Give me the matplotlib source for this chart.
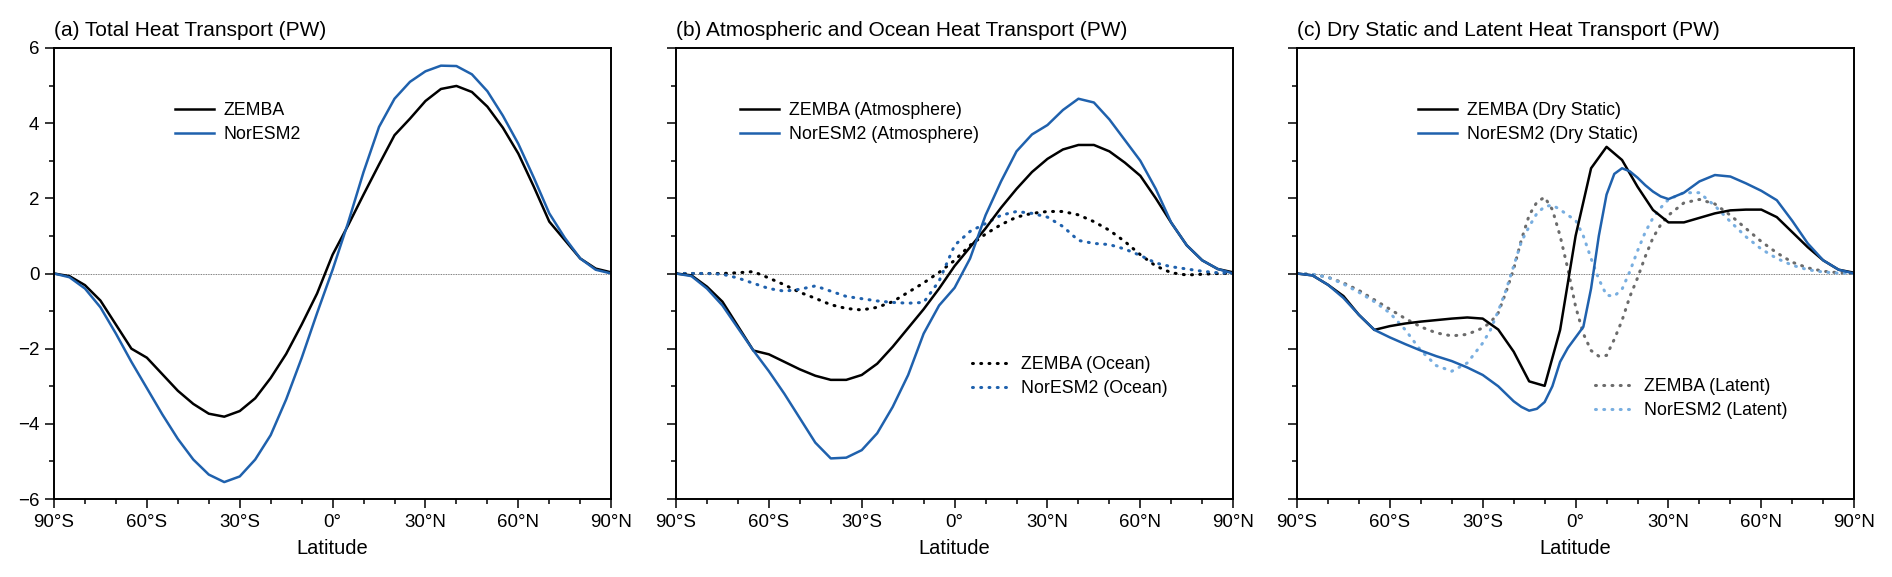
import numpy as np
import matplotlib
matplotlib.use("Agg")
import matplotlib.pyplot as plt
from matplotlib.ticker import MultipleLocator, FixedLocator

plt.rcParams['font.family'] = ['Liberation Sans', 'DejaVu Sans']

# latitude grids
lat = np.arange(-90, 91, 5)
lat_c = np.concatenate([np.arange(-90, -29, 5), np.arange(-27.5, 28, 2.5), np.arange(30, 91, 5)])

# (a) total heat transport (PW), 5 deg grid
total_zemba = [0, -0.07, -0.31, -0.72, -1.36, -2.0, -2.24, -2.68, -3.12, -3.47, -3.73, -3.81, -3.66,
               -3.32, -2.78, -2.14, -1.36, -0.53, 0.5, 1.28, 2.1, 2.9, 3.68, 4.12, 4.59, 4.91, 4.99,
               4.83, 4.44, 3.88, 3.19, 2.31, 1.38, 0.89, 0.40, 0.13, 0.03]
total_noresm = [0, -0.1, -0.4, -0.9, -1.6, -2.35, -3.05, -3.75, -4.4, -4.95, -5.35, -5.55, -5.4,
                -4.95, -4.3, -3.35, -2.25, -1.05, 0.1, 1.35, 2.7, 3.9, 4.65, 5.1, 5.38, 5.53, 5.52,
                5.3, 4.85, 4.2, 3.45, 2.55, 1.6, 0.95, 0.4, 0.1, 0.0]

# (b) atmosphere and ocean (PW), 5 deg grid
atm_zemba = [0, -0.05, -0.35, -0.75, -1.4, -2.05, -2.15, -2.35, -2.55, -2.72, -2.83, -2.83, -2.7,
             -2.4, -1.95, -1.45, -0.95, -0.4, 0.2, 0.7, 1.2, 1.75, 2.25, 2.7, 3.05, 3.3, 3.42,
             3.42, 3.25, 2.95, 2.6, 2.0, 1.35, 0.75, 0.35, 0.12, 0.03]
atm_noresm = [0, -0.07, -0.4, -0.85, -1.45, -2.05, -2.6, -3.2, -3.85, -4.5, -4.92, -4.9, -4.7,
              -4.25, -3.55, -2.7, -1.6, -0.85, -0.38, 0.4, 1.55, 2.45, 3.25, 3.7, 3.95, 4.35, 4.65,
              4.55, 4.1, 3.55, 3.0, 2.25, 1.35, 0.75, 0.35, 0.12, 0.0]
ocn_zemba = [0, 0, 0, 0, 0.02, 0.05, -0.12, -0.3, -0.5, -0.66, -0.83, -0.93, -0.97,
             -0.9, -0.75, -0.5, -0.25, 0.03, 0.35, 0.75, 1.05, 1.3, 1.5, 1.6, 1.65, 1.65, 1.56,
             1.38, 1.15, 0.85, 0.5, 0.2, 0.02, -0.04, -0.02, 0, 0]
ocn_noresm = [0, 0, 0, -0.02, -0.12, -0.26, -0.4, -0.47, -0.42, -0.33, -0.47, -0.61, -0.67,
              -0.73, -0.77, -0.79, -0.77, -0.2, 0.75, 1.12, 1.33, 1.55, 1.65, 1.6, 1.5, 1.25, 0.88,
              0.8, 0.77, 0.65, 0.48, 0.28, 0.18, 0.12, 0.06, 0.02, 0]

# (c) dry static and latent (PW)
dry_zemba = [0, -0.05, -0.3, -0.6, -1.1, -1.5, -1.4, -1.33, -1.28, -1.24, -1.2, -1.17, -1.2,
             -1.49, -2.08, -2.87, -2.99, -1.5, 1.0, 2.8, 3.37, 3.02, 2.31, 1.69, 1.36, 1.36, 1.48,
             1.6, 1.68, 1.7, 1.7, 1.5, 1.1, 0.7, 0.35, 0.1, 0.02]
dry_noresm = [0, -0.05, -0.3, -0.65, -1.1, -1.5, -1.7, -1.88, -2.05, -2.2, -2.33, -2.5, -2.7,
              -2.85, -3.0, -3.2, -3.4, -3.55, -3.65, -3.6, -3.42, -3.0, -2.35, -1.98, -1.7,
              -1.42, -0.4, 1.0, 2.1, 2.65, 2.8, 2.72, 2.55, 2.35, 2.18, 2.05,
              1.98, 2.15, 2.45, 2.62, 2.58, 2.4, 2.2, 1.95, 1.4, 0.8, 0.35, 0.1, 0]
lat_zemba = [0, -0.02, -0.1, -0.25, -0.45, -0.7, -0.95, -1.2, -1.42, -1.58, -1.66, -1.62, -1.45,
             -1.3, -1.05, -0.5, 0.12, 0.9, 1.55, 1.9, 2.03, 1.7, 1.0, 0.12, -0.88,
             -1.6, -2.05, -2.2, -2.18, -1.75, -1.25, -0.62, -0.12, 0.45, 0.95, 1.3,
             1.55, 1.88, 1.97, 1.85, 1.55, 1.2, 0.85, 0.55, 0.3, 0.15, 0.06, 0.02, 0]
lat_noresm = [0, -0.02, -0.1, -0.28, -0.5, -0.75, -1.05, -1.5, -2.05, -2.45, -2.6, -2.38, -1.85,
              -1.5, -1.0, -0.45, 0.2, 0.85, 1.25, 1.6, 1.78, 1.82, 1.7, 1.55, 1.42,
              1.0, 0.4, -0.15, -0.58, -0.6, -0.42, 0.05, 0.6, 1.1, 1.48, 1.75,
              1.97, 2.15, 2.15, 1.8, 1.38, 0.98, 0.65, 0.4, 0.22, 0.1, 0.04, 0.01, 0]

titles = ['(a) Total Heat Transport (PW)',
          '(b) Atmospheric and Ocean Heat Transport (PW)',
          '(c) Dry Static and Latent Heat Transport (PW)']
xticklabels = ['90°S', '60°S', '30°S', '0°', '30°N', '60°N', '90°N']

BLUE = '#1f61ad'
LBLUE = '#78aee0'
GRAY = '#6b6b6b'
DOT = (0, (0.3, 2.4))
LW = 1.8

fig = plt.figure(figsize=(18.92, 5.77), dpi=100)
lefts = [54 / 1892, 676 / 1892, 1297 / 1892]
axes = [fig.add_axes([l, 1 - 499 / 577, 0.2945, 451 / 577]) for l in lefts]


def style(ax, title, ylabels):
    ax.set_xlim(-90, 90)
    ax.set_ylim(-6, 6)
    ax.axhline(0, color='#555555', lw=0.6, ls=(0, (1, 1)), zorder=1)
    ax.xaxis.set_major_locator(FixedLocator(np.arange(-90, 91, 30)))
    ax.set_xticklabels(xticklabels)
    ax.xaxis.set_minor_locator(MultipleLocator(10))
    ax.yaxis.set_major_locator(MultipleLocator(2))
    ax.yaxis.set_minor_locator(MultipleLocator(1))
    ax.tick_params(which='both', direction='out', top=False, right=False, width=1.1, labelsize=13.5)
    ax.tick_params(which='major', length=6.5, pad=4)
    ax.tick_params(which='minor', length=3.5)
    if not ylabels:
        ax.tick_params(axis='y', labelleft=False)
    for s in ax.spines.values():
        s.set_linewidth(1.4)
    ax.set_xlabel('Latitude', fontsize=14.5, labelpad=6)
    ax.set_title(title, loc='left', fontsize=15, pad=9)


leg_kw = dict(frameon=False, fontsize=12.8, loc='center left', borderpad=0, borderaxespad=0,
              handlelength=2.2, handletextpad=0.55, labelspacing=0.38)
line_kw = dict(solid_joinstyle='round')
dot_kw = dict(lw=2.2, ls=DOT, dash_capstyle='round')

# (a)
ax = axes[0]
style(ax, titles[0], True)
h1, = ax.plot(lat, total_zemba, color='black', lw=LW, label='ZEMBA', **line_kw)
h2, = ax.plot(lat, total_noresm, color=BLUE, lw=LW, label='NorESM2', **line_kw)
ax.legend(handles=[h1, h2], bbox_to_anchor=(0.217, 0.835), **leg_kw)

# (b)
ax = axes[1]
style(ax, titles[1], False)
o1, = ax.plot(lat, ocn_zemba, color='black', label='ZEMBA (Ocean)', **dot_kw)
o2, = ax.plot(lat, ocn_noresm, color=BLUE, label='NorESM2 (Ocean)', **dot_kw)
a1, = ax.plot(lat, atm_zemba, color='black', lw=LW, label='ZEMBA (Atmosphere)', **line_kw)
a2, = ax.plot(lat, atm_noresm, color=BLUE, lw=LW, label='NorESM2 (Atmosphere)', **line_kw)
leg1 = ax.legend(handles=[a1, a2], bbox_to_anchor=(0.115, 0.835), **leg_kw)
ax.add_artist(leg1)
ax.legend(handles=[o1, o2], bbox_to_anchor=(0.531, 0.271), **leg_kw)

# (c)
ax = axes[2]
style(ax, titles[2], False)
l1, = ax.plot(lat_c, lat_zemba, color=GRAY, label='ZEMBA (Latent)', **dot_kw)
l2, = ax.plot(lat_c, lat_noresm, color=LBLUE, label='NorESM2 (Latent)', **dot_kw)
d1, = ax.plot(lat, dry_zemba, color='black', lw=LW, label='ZEMBA (Dry Static)', **line_kw)
d2, = ax.plot(lat_c, dry_noresm, color=BLUE, lw=LW, label='NorESM2 (Dry Static)', **line_kw)
leg1 = ax.legend(handles=[d1, d2], bbox_to_anchor=(0.217, 0.835), **leg_kw)
ax.add_artist(leg1)
ax.legend(handles=[l1, l2], bbox_to_anchor=(0.535, 0.223), **leg_kw)

fig.savefig('out.png', dpi=100)
